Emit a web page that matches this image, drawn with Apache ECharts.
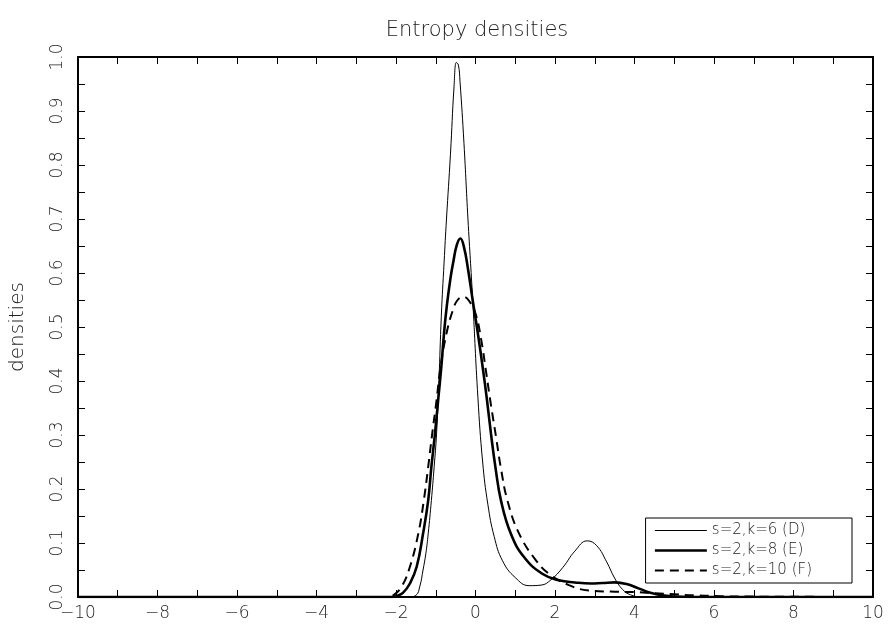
<!DOCTYPE html>
<html><head><meta charset="utf-8">
<script src="https://cdn.jsdelivr.net/npm/echarts@6/dist/echarts.min.js"></script>
<style>html,body{margin:0;padding:0;background:#fff}#c{width:888px;height:625px}</style>
</head><body><div id="c"></div>
<script>
const titleText = 'Entropy densities';
const yAxisName = 'densities';
const seriesNames = ['s=2,k=6 (D)', 's=2,k=8 (E)', 's=2,k=10 (F)'];

const xD = [-10, -1.7, -1.5, -1.4, -1.32, -1.25, -1.19, -1.11, -1.04, -0.98, -0.92, -0.86, -0.79, -0.73, -0.63, -0.54, -0.48, -0.43, -0.39, -0.29, -0.19, -0.07, 0.06, 0.18, 0.31, 0.47, 0.68, 1.0, 1.35, 1.65, 1.9, 2.2, 2.5, 2.81, 3.05, 3.3, 3.5, 3.7, 3.9, 4.2, 10];
const yD = [0, 0, 0.003, 0.02, 0.05, 0.08, 0.117, 0.179, 0.241, 0.302, 0.40, 0.52, 0.62, 0.70, 0.82, 0.945, 0.99, 0.985, 0.955, 0.84, 0.70, 0.55, 0.37, 0.25, 0.172, 0.112, 0.067, 0.036, 0.021, 0.022, 0.032, 0.055, 0.085, 0.104, 0.095, 0.065, 0.035, 0.014, 0.004, 0, 0];

const xE = [-10, -2.1, -1.98, -1.82, -1.65, -1.48, -1.32, -1.19, -1.11, -1.02, -0.94, -0.86, -0.79, -0.72, -0.63, -0.56, -0.47, -0.38, -0.29, -0.19, -0.07, 0.06, 0.18, 0.29, 0.39, 0.5, 0.64, 0.89, 1.22, 1.68, 2.1, 2.5, 2.9, 3.2, 3.5, 3.8, 4.1, 4.4, 4.7, 5.0, 5.4, 10];
const yE = [0, 0, 0.002, 0.008, 0.025, 0.056, 0.117, 0.179, 0.241, 0.302, 0.364, 0.426, 0.49, 0.54, 0.59, 0.62, 0.652, 0.664, 0.648, 0.608, 0.549, 0.488, 0.426, 0.364, 0.302, 0.241, 0.179, 0.117, 0.074, 0.043, 0.031, 0.027, 0.025, 0.026, 0.027, 0.024, 0.016, 0.008, 0.003, 0.001, 0, 0];

const xF = [-10, -2.2, -2.07, -1.86, -1.65, -1.44, -1.3, -1.19, -1.09, -0.98, -0.88, -0.73, -0.57, -0.45, -0.3, -0.15, 0.0, 0.14, 0.27, 0.39, 0.52, 0.64, 0.81, 1.1, 1.52, 1.85, 2.35, 2.85, 3.4, 4.0, 4.5, 5.0, 5.5, 6.0, 6.4, 10];
const yF = [0, 0, 0.003, 0.019, 0.056, 0.117, 0.179, 0.241, 0.302, 0.364, 0.426, 0.488, 0.531, 0.55, 0.556, 0.547, 0.525, 0.478, 0.415, 0.355, 0.295, 0.238, 0.177, 0.117, 0.068, 0.043, 0.022, 0.012, 0.01, 0.009, 0.007, 0.005, 0.003, 0.002, 0.001, 0];

const FONT = "'DejaVu Sans', sans-serif";
const TXT = '#222';
const zip = (xs, ys) => xs.map((x, i) => [x, ys[i]]);
const minus = v => String(v).replace('-', '\u2212');
const lineWidths = [1, 2.6, 2];
const lineTypes = ['solid', 'solid', [9, 6]];

const frameAxis = () => ({
  axisLine: { show: true, onZero: false, lineStyle: { color: '#000', width: 2 } },
  axisTick: { show: true, inside: true, length: 7, lineStyle: { color: '#000', width: 1 } },
  minorTick: { show: true, splitNumber: 2, length: 7, lineStyle: { color: '#000', width: 1 } },
  splitLine: { show: false },
  minorSplitLine: { show: false }
});

const chart = echarts.init(document.getElementById('c'), null, { renderer: 'canvas' });
chart.setOption({
  animation: false,
  backgroundColor: '#fff',
  title: {
    text: titleText, left: 472, top: 15, textAlign: 'center',
    textStyle: { fontFamily: FONT, fontWeight: 200, fontSize: 21, color: TXT }
  },
  grid: { left: 72, right: 15, top: 57, bottom: 28, containLabel: false },
  xAxis: [
    Object.assign({ type: 'value', min: -10, max: 10, interval: 2, position: 'bottom',
      axisLabel: { formatter: minus, margin: 8, fontFamily: FONT, fontWeight: 200, fontSize: 17, color: TXT } }, frameAxis()),
    Object.assign({ type: 'value', min: -10, max: 10, interval: 2, position: 'top',
      axisLabel: { show: false } }, frameAxis())
  ],
  yAxis: [
    Object.assign({ type: 'value', min: 0, max: 1, interval: 0.1, position: 'left',
      name: yAxisName, nameLocation: 'middle', nameRotate: 90, nameGap: 50,
      nameTextStyle: { fontFamily: FONT, fontWeight: 200, fontSize: 20, color: TXT },
      axisLabel: { rotate: 90, margin: 12, formatter: v => v.toFixed(1), fontFamily: FONT, fontWeight: 200, fontSize: 17, color: TXT } }, frameAxis()),
    Object.assign({ type: 'value', min: 0, max: 1, interval: 0.1, position: 'right',
      axisLabel: { show: false } }, frameAxis())
  ],
  legend: {
    data: seriesNames.map((n, i) => ({ name: n, lineStyle: { width: lineWidths[i], type: lineTypes[i], color: '#000' } })),
    orient: 'vertical', right: 36, bottom: 42,
    backgroundColor: '#fff', borderColor: '#000', borderWidth: 1, borderRadius: 0,
    padding: [5, 40, 5, 8], itemWidth: 52, itemHeight: 13, itemGap: 5,
    itemStyle: { opacity: 0 },
    textStyle: { fontFamily: FONT, fontWeight: 200, fontSize: 15, color: TXT }
  },
  series: seriesNames.map((n, i) => ({
    name: n, type: 'line', data: zip([xD, xE, xF][i], [yD, yE, yF][i]), symbol: 'none', smooth: 0.45,
    lineStyle: { color: '#000', width: lineWidths[i], type: lineTypes[i] }, itemStyle: { color: '#000' }, z: 3
  }))
});
</script>
</body></html>
